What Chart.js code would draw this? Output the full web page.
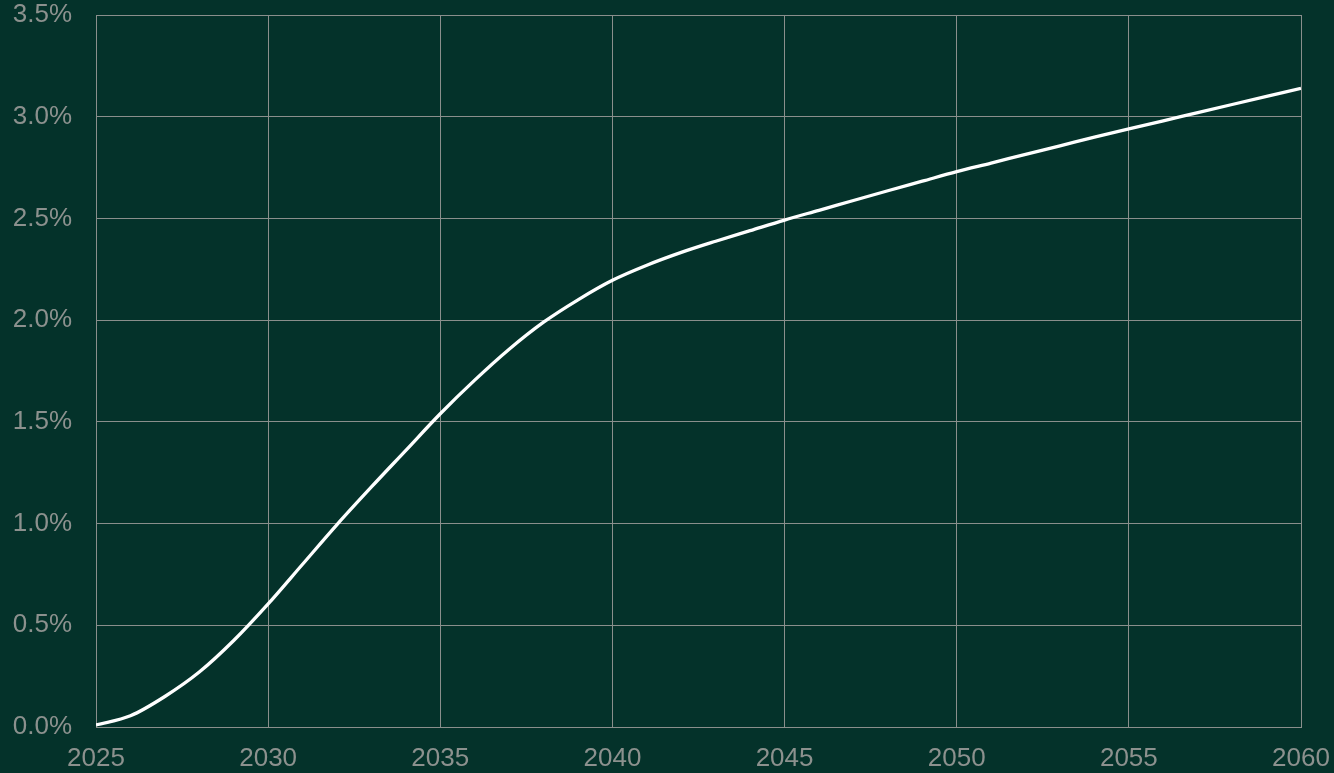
<!DOCTYPE html>
<html>
<head>
<meta charset="utf-8">
<script src="https://cdn.jsdelivr.net/npm/chart.js@4/dist/chart.umd.min.js"></script>
<style>
  html, body { margin: 0; padding: 0; background: #04322a; }
  #wrap { width: 1334px; height: 773px; }
</style>
</head>
<body>
<div id="wrap"><canvas id="chart"></canvas></div>
<script>
const years = [2025, 2026, 2027, 2028, 2029, 2030, 2031, 2032, 2033, 2034, 2035,
  2036, 2037, 2038, 2039, 2040, 2041, 2042, 2043, 2044, 2045,
  2046, 2047, 2048, 2049, 2050, 2051, 2052, 2053, 2054, 2055,
  2056, 2057, 2058, 2059, 2060];
const share = [0.01, 0.055, 0.15, 0.27, 0.425, 0.605, 0.80, 0.995, 1.18, 1.36, 1.54,
  1.705, 1.857, 1.99, 2.10, 2.196, 2.27, 2.333, 2.388, 2.44, 2.492,
  2.54, 2.588, 2.636, 2.683, 2.73, 2.772, 2.815, 2.857, 2.90, 2.94,
  2.98, 3.02, 3.06, 3.10, 3.14];
const yTicks = [0, 0.5, 1.0, 1.5, 2.0, 2.5, 3.0, 3.5];

const gridCol = "#8a8f8c";
const textCol = "#8c918e";
const tickFont = { family: "'Liberation Sans', Arial, sans-serif", size: 26 };

const ctx = document.getElementById("chart").getContext("2d");
new Chart(ctx, {
  type: "line",
  data: {
    datasets: [{
      data: years.map((y, i) => ({ x: y, y: share[i] })),
      borderColor: "#ffffff",
      borderWidth: 3.3,
      pointRadius: 0,
      fill: false,
      cubicInterpolationMode: "monotone"
    }]
  },
  options: {
    responsive: true,
    maintainAspectRatio: false,
    animation: false,
    layout: { padding: { top: 15, right: 33, left: 0, bottom: 0 } },
    plugins: { legend: { display: false }, tooltip: { enabled: false } },
    scales: {
      x: {
        type: "linear",
        min: 2025, max: 2060,
        // keep the label overhang from shrinking the plot
        afterFit: s => { s.height = 46; s.paddingLeft = 0; s.paddingRight = 0; },
        grid: { color: gridCol, lineWidth: 1, drawTicks: false },
        border: { color: gridCol, width: 1 },
        ticks: {
          stepSize: 5, padding: 16, color: textCol, font: tickFont,
          maxRotation: 0, callback: v => String(v)
        }
      },
      y: {
        min: 0, max: 3.5,
        afterFit: s => { s.width = 96; s.paddingTop = 0; s.paddingBottom = 0; },
        afterBuildTicks: s => { s.ticks = yTicks.map(v => ({ value: v })); },
        grid: { color: gridCol, lineWidth: 1, drawTicks: false },
        border: { color: gridCol, width: 1 },
        ticks: {
          padding: 24, color: textCol, font: tickFont,
          callback: v => v.toFixed(1) + "%"
        }
      }
    }
  }
});
</script>
</body>
</html>
